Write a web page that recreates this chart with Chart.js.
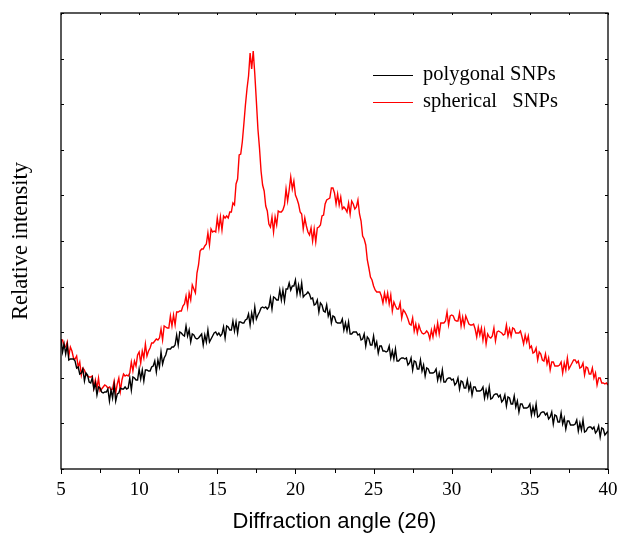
<!DOCTYPE html>
<html>
<head>
<meta charset="utf-8">
<script src="https://cdn.jsdelivr.net/npm/chart.js@4.4.0/dist/chart.umd.min.js"></script>
<style>
  html, body { margin: 0; padding: 0; background: #fff; }
  #wrap { width: 617px; height: 536px; position: relative; }
</style>
</head>
<body>
<div id="wrap"><canvas id="xrd"></canvas></div>
<script>
// 2-theta grid of the scan: 5.0 .. 40.0 deg, every 0.1 deg
const angleStart = 5;
const angleStep = 0.1;

// arbitrary units (axis runs 0..456)
const polygonal = [
  130,117,125,115,124,109,110,110,110,108,
  101,102,95,96,100,88,96,94,87,86,
  91,80,86,74,82,81,77,76,77,77,
  80,68,79,71,84,68,75,76,81,80,
  80,82,80,81,91,79,92,91,89,89,
  100,90,99,88,99,99,98,98,102,103,
  108,97,109,102,117,105,111,114,120,120,
  120,122,122,124,134,124,137,136,134,133,
  143,133,139,127,135,134,131,130,131,133,
  135,124,134,127,139,127,130,133,136,137,
  134,136,133,135,142,131,143,142,139,139,
  148,138,147,136,147,147,146,146,149,150,
  155,144,156,148,162,150,154,157,161,162,
  161,162,160,162,171,160,172,171,169,169,
  179,169,179,168,180,180,186,179,183,183,
  189,175,184,175,186,172,174,175,177,175,
  170,171,164,165,169,157,166,164,158,157,
  164,153,158,146,153,152,147,146,146,146,
  150,139,146,138,147,135,135,137,137,137,
  134,135,129,130,135,123,132,130,124,124,
  133,122,127,116,123,123,118,118,117,118,
  123,111,118,110,120,108,108,110,111,111,
  110,111,104,106,111,99,108,107,100,100,
  109,98,104,93,101,100,96,96,96,97,
  100,89,96,89,99,87,87,90,91,91,
  89,90,84,86,91,80,88,87,81,81,
  89,79,85,74,82,82,78,78,78,79,
  82,71,79,72,82,70,71,74,75,75,
  72,74,67,69,74,63,72,71,65,65,
  73,62,68,57,65,65,61,61,61,62,
  65,54,62,55,65,52,53,56,57,57,
  54,56,50,52,57,45,54,53,47,47,
  56,45,51,40,48,48,44,44,44,45,
  49,38,46,39,49,37,38,41,42,42,
  40,42,36,38,43,32,41,40,34,36,
  38
];

const spherical = [
  129,129,123,122,127,113,122,118,111,110,
  113,102,107,94,101,99,94,93,92,92,
  93,81,89,81,91,78,80,82,84,83,
  81,82,79,80,88,76,85,91,78,89,
  95,93,94,93,96,107,98,108,103,114,
  117,106,118,111,125,113,118,121,126,126,
  128,130,129,131,140,129,143,142,141,141,
  153,143,154,144,157,157,158,158,163,165,
  173,162,176,169,184,180,176,196,204,218,
  220,220,223,225,236,224,240,237,238,237,
  251,240,252,239,253,251,253,251,257,257,
  266,264,285,290,314,315,327,345,364,380,
  393,416,400,418,395,368,340,321,298,284,
  278,263,258,245,242,252,237,252,244,258,
  257,257,259,264,280,268,279,292,280,288,
  274,270,265,257,255,240,251,243,237,234,
  241,228,240,227,241,242,244,253,254,265,
  269,270,271,281,281,276,265,275,264,272,
  260,262,260,257,266,255,268,265,260,262,
  269,255,248,233,230,224,209,201,192,189,
  183,179,177,177,177,173,166,176,168,176,
  165,174,158,167,163,160,160,166,151,159,
  157,154,150,145,144,151,138,145,136,144,
  139,136,135,136,138,136,130,139,132,142,
  135,146,135,146,146,146,148,157,144,153,
  154,153,149,148,148,156,143,152,143,153,
  149,145,144,144,145,140,132,142,134,141,
  129,139,125,135,132,131,133,141,128,137,
  138,137,136,134,135,144,133,140,133,141,
  140,136,136,136,138,132,125,134,127,133,
  121,123,116,117,121,109,117,115,109,108,
  115,105,111,99,107,107,103,103,103,104,
  107,96,106,99,111,100,103,106,109,109,
  106,108,101,102,106,94,102,101,95,95,
  101,91,96,84,91,91,86,86,85,86,
  84
];

const xTicks = [5, 10, 15, 20, 25, 30, 35, 40];
const xMinorStep = 2.5;
const yMax = 456;
const yTickStep = 45.6;

const toPoints = arr => arr.map((v, i) => ({ x: +(angleStart + i * angleStep).toFixed(1), y: v }));

// frame, ticks, labels, titles and legend drawn by hand
const framePlugin = {
    id: 'frame',
    afterDraw(chart) {
        const { ctx, chartArea: a, scales: { x, y } } = chart;
        ctx.save();
        ctx.strokeStyle = '#000';
        ctx.lineWidth = 1.3;
        ctx.strokeRect(a.left, a.top, a.right - a.left, a.bottom - a.top);

        ctx.lineWidth = 1;
        ctx.beginPath();
        for (let v = x.min; v <= x.max + 0.001; v += xMinorStep) {
            const px = Math.round(x.getPixelForValue(v)) + 0.5;
            const major = xTicks.includes(v);
            ctx.moveTo(px, a.bottom);
            ctx.lineTo(px, a.bottom + (major ? 5 : 4));
            ctx.moveTo(px, a.top);
            ctx.lineTo(px, a.top + 2);
        }
        for (let v = 0; v <= yMax + 0.001; v += yTickStep) {
            const py = Math.round(y.getPixelForValue(v)) + 0.5;
            ctx.moveTo(a.left, py);
            ctx.lineTo(a.left + 3, py);
            ctx.moveTo(a.right, py);
            ctx.lineTo(a.right - 3, py);
        }
        ctx.stroke();

        ctx.fillStyle = '#000';
        ctx.font = '19px "Liberation Serif", "Times New Roman", serif';
        ctx.textAlign = 'center';
        ctx.textBaseline = 'top';
        xTicks.forEach(t => ctx.fillText(String(t), x.getPixelForValue(t), a.bottom + 12));

        ctx.font = '22px "Liberation Sans", Arial, sans-serif';
        ctx.textBaseline = 'middle';
        ctx.fillText('Diffraction angle (2\u03b8)', (a.left + a.right) / 2, 522);

        ctx.save();
        ctx.translate(21, (a.top + a.bottom) / 2);
        ctx.rotate(-Math.PI / 2);
        ctx.font = '22.5px "Liberation Serif", "Times New Roman", serif';
        ctx.fillText('Relative intensity', 0, 0);
        ctx.restore();

        // legend
        ctx.font = '20.5px "Liberation Serif", "Times New Roman", serif';
        ctx.textAlign = 'left';
        chart.data.datasets.forEach((ds, i) => {
            const ly = 75 + i * 27;
            ctx.strokeStyle = ds.borderColor;
            ctx.lineWidth = 1.2;
            ctx.beginPath();
            ctx.moveTo(373, ly + 0.5);
            ctx.lineTo(413, ly + 0.5);
            ctx.stroke();
            ctx.fillText(ds.label, 423, ly);
        });
        ctx.restore();
    }
};

new Chart(document.getElementById('xrd'), {
    type: 'line',
    data: {
        datasets: [
            { label: 'polygonal SNPs', data: toPoints(polygonal), borderColor: '#000000', borderWidth: 1.4, pointRadius: 0, tension: 0 },
            { label: 'spherical   SNPs', data: toPoints(spherical), borderColor: '#ff0000', borderWidth: 1.4, pointRadius: 0, tension: 0 }
        ]
    },
    options: {
        responsive: true,
        maintainAspectRatio: false,
        animation: false,
        layout: { padding: { top: 13, right: 9, left: 0, bottom: 0 } },
        plugins: { legend: { display: false }, tooltip: { enabled: false } },
        scales: {
            x: {
                type: 'linear', min: 5, max: 40,
                grid: { display: false }, border: { display: false },
                ticks: { display: false },
                afterFit: s => { s.height = 67; }
            },
            y: {
                min: 0, max: yMax,
                grid: { display: false }, border: { display: false },
                ticks: { display: false },
                afterFit: s => { s.width = 61; }
            }
        }
    },
    plugins: [framePlugin]
});
</script>
</body>
</html>
